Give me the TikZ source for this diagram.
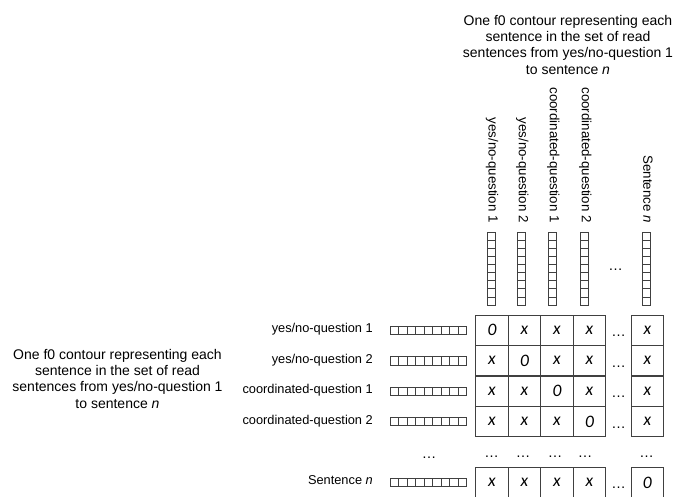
\documentclass[tikz,border=0pt]{standalone}
\usepackage{fontspec}
\setmainfont{Liberation Sans}
\newfontfamily\cellfont{Carlito}
\tikzset{
  cell/.style={draw=black!75, line width=0.8pt, minimum width=32.5pt, minimum height=30.45pt,
    inner sep=0pt, font=\cellfont\fontsize{17.5}{17.5}\selectfont\itshape},
  rowlabel/.style={anchor=east, inner sep=0pt, font=\fontsize{12.8}{14}\selectfont,
    text height=0.72em, text depth=0.21em},
  collabel/.style={rotate=-90, anchor=east, inner sep=0pt, font=\fontsize{13.3}{14}\selectfont,
    text height=0.72em, text depth=0.21em},
  dots/.style={anchor=base, inner sep=0pt, font=\fontsize{14.5}{14}\selectfont},
  title/.style={align=center, anchor=north, inner sep=0pt, font=\fontsize{14}{16.3}\selectfont},
  hbar/.style={draw=black!75, line width=0.7pt, inner sep=0pt, minimum width=76.7pt, minimum height=8.3pt,
    path picture={\foreach \k in {1,...,8}
      \draw[black!75, line width=0.7pt] ([xshift=\k*8.52pt]path picture bounding box.south west)
        -- ([xshift=\k*8.52pt]path picture bounding box.north west);}},
  vbar/.style={draw=black!75, line width=0.7pt, inner sep=0pt, minimum width=7.7pt, minimum height=72.7pt,
    path picture={\foreach \k in {1,...,8}
      \draw[black!75, line width=0.7pt] ([yshift=\k*8.08pt]path picture bounding box.south west)
        -- ([yshift=\k*8.08pt]path picture bounding box.south east);}},
}
\begin{document}
\begin{tikzpicture}[x=1pt, y=-1pt]
    \useasboundingbox (0,0) rectangle (678,496);
    % titles
    \node[title] (toptitle) at (568,15) {One f0 contour representing each\\sentence in the set of read\\sentences from yes/no-question 1\\to sentence \textit{n}};
    \node[title] (lefttitle) at (117.5,349) {One f0 contour representing each\\sentence in the set of read\\sentences from yes/no-question 1\\to sentence \textit{n}};
    % columns: bars and labels
    \foreach \c/\xx/\txt in {1/491.2/yes\slash no-question 1, 2/521.5/yes\slash no-question 2,
        3/552.5/coordinated-question 1, 4/584.3/coordinated-question 2, 5/646/Sentence \textit{n}} {
      \node[vbar] (cb\c) at (\xx,268.65) {};
      \node[collabel] (cl\c) at (\xx,223) {\txt};
    }
    \node[dots] (cdots) at (615.5,270) {…};
    % rows: labels and bars
    \foreach \r/\yy/\txt in {1/330.2/yes\slash no-question 1, 2/360.7/yes\slash no-question 2,
        3/391.1/coordinated-question 1, 4/421.5/coordinated-question 2, 5/482.4/Sentence \textit{n}} {
      \node[rowlabel] (rl\r) at (373,\yy) {\txt};
      \node[hbar] (rb\r) at (428.35,\yy) {};
      \foreach \c/\xx in {1/491.95, 2/524.45, 3/556.95, 4/589.45, 5/647.3} {
        \node[cell] (c\r\c) at (\xx,\yy) {\ifnum\r=\c\relax 0\else x\fi};
      }
      \node[dots] (rdots\r) at (618.5,\yy+6.5) {…};
    }
    % the row of dots
    \node[dots] (ldots) at (429,458.5) {…};
    \foreach \c/\xx in {1/491.7, 2/523, 3/555, 4/585, 5/646.7} {
      \node[dots] (d\c) at (\xx,457.7) {…};
    }
\end{tikzpicture}
\end{document}
